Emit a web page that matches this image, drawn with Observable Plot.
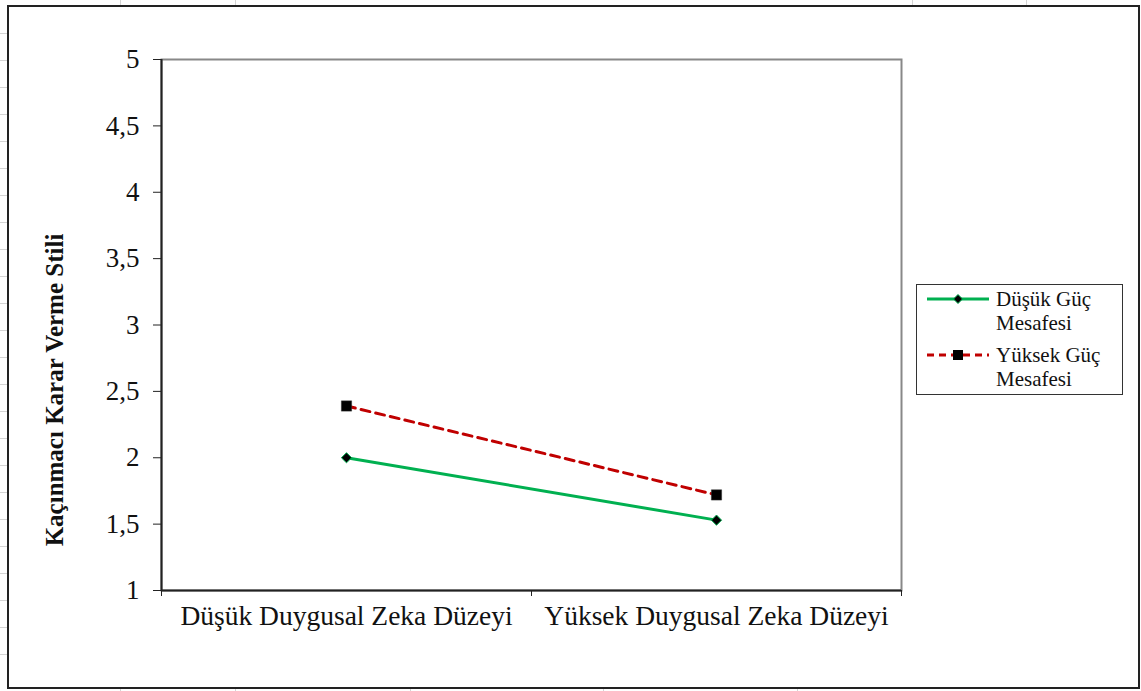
<!DOCTYPE html>
<html>
<head>
<meta charset="utf-8">
<script src="https://cdn.jsdelivr.net/npm/d3@7"></script>
<script src="https://cdn.jsdelivr.net/npm/@observablehq/plot@0.6"></script>
<style>
  body { margin: 0; background: #fff; }
  #wrap { position: relative; width: 1141px; height: 691px; overflow: hidden; font-family: "Liberation Serif", "Times New Roman", serif; }
  #wrap svg.plot { position: absolute; left: 0; top: 0; }
  #border { position: absolute; left: 7px; top: 5px; width: 1133px; height: 684px; border: 2px solid #222; box-sizing: border-box; pointer-events: none; }
  .grid { position: absolute; background: #d4d4d4; }
  #legend { position: absolute; left: 916px; top: 284px; width: 207px; height: 111px; border: 1.5px solid #333; box-sizing: border-box; background: #fff; font-size: 21px; color: #111; line-height: 24px; }
  .item { position: absolute; left: 9px; display: flex; align-items: flex-start; }
  .item svg { margin-top: 4px; margin-right: 6px; }
</style>
</head>
<body>
<div id="wrap">
  <div id="border"></div>
  <div id="legend"></div>
</div>
<script>
const categories = ["Düşük Duygusal Zeka Düzeyi", "Yüksek Duygusal Zeka Düzeyi"];
const seriesNames = ["Düşük Güç Mesafesi", "Yüksek Güç Mesafesi"];
const lowPowerDistance = [2.0, 1.53];
const highPowerDistance = [2.39, 1.72];
const yTicks = [1, 1.5, 2, 2.5, 3, 3.5, 4, 4.5, 5];
const yLabel = "Kaçınmacı Karar Verme Stili";

const green = "#00B050";
const red = "#C00000";

const rows = [];
categories.forEach((c, i) => {
  rows.push({series: seriesNames[0], cat: c, idx: i + 0.5, value: lowPowerDistance[i]});
  rows.push({series: seriesNames[1], cat: c, idx: i + 0.5, value: highPowerDistance[i]});
});
const lowRows = rows.filter(d => d.series === seriesNames[0]);
const highRows = rows.filter(d => d.series === seriesNames[1]);

const fmt = d => String(d).replace(".", ",");

const chart = Plot.plot({
  width: 1141,
  height: 691,
  marginLeft: 161,
  marginRight: 240,
  marginTop: 59,
  marginBottom: 101,
  style: {fontFamily: '"Liberation Serif", "Times New Roman", serif', fontSize: "27px", color: "#111", background: "transparent"},
  x: {type: "linear", domain: [0, categories.length]},
  y: {type: "linear", domain: [1, 5]},
  marks: [
    Plot.frame({stroke: "#888", strokeWidth: 2}),
    Plot.ruleX([0], {stroke: "#222", strokeWidth: 2}),
    Plot.ruleY([1], {stroke: "#222", strokeWidth: 2}),
    Plot.axisY({ticks: yTicks, tickFormat: fmt, tickSize: 8, tickPadding: 14, fontSize: 27, stroke: "#222", label: yLabel, labelAnchor: "center", labelArrow: "none", labelOffset: 116}),
    Plot.axisX({ticks: d3.range(categories.length + 1), tickFormat: () => "", tickSize: 6, stroke: "#222", label: null}),
    Plot.axisX({ticks: categories.map((c, i) => i + 0.5), tickFormat: v => categories[Math.floor(v)], tickSize: 0, tickPadding: 15, fontSize: 27.5, label: null}),
    Plot.line(lowRows, {x: "idx", y: "value", stroke: green, strokeWidth: 3}),
    Plot.line(highRows, {x: "idx", y: "value", stroke: red, strokeWidth: 3, strokeDasharray: "9,6"}),
    Plot.dot(lowRows, {x: "idx", y: "value", symbol: "diamond2", r: 4.6, fill: "#000", stroke: green, strokeWidth: 1}),
    Plot.dot(highRows, {x: "idx", y: "value", symbol: "square", r: 5.8, fill: "#000", stroke: "#333", strokeWidth: 0.5})
  ]
});
chart.classList.add("plot");
const wrap = document.getElementById("wrap");
wrap.insertBefore(chart, wrap.firstChild);
const yTickLabels = chart.querySelector('[aria-label="y-axis tick label"]');
if (yTickLabels) yTickLabels.setAttribute("font-size", "27");
const lab = chart.querySelector('[aria-label="y-axis label"]');
if (lab) {
  lab.setAttribute("font-weight", "bold");
  lab.setAttribute("font-size", "25");
  const t = lab.getAttribute("transform") || "";
  lab.setAttribute("transform", "translate(0,65) " + t);
}

// spreadsheet gridlines outside the chart area
[[120,0,1,5],[235,0,1,5],[912,0,1,5],[1026,0,1,5],[120,688,1,3],[235,688,1,3],[410,688,1,3],[603,688,1,3],[797,688,1,3],
 [0,33,7,1],[0,60,7,1],[0,87,7,1],[0,114,7,1],[0,141,7,1],[0,168,7,1],[0,195,7,1],[0,222,7,1],[0,249,7,1],[0,276,7,1],[0,303,7,1],[0,330,7,1],[0,357,7,1],[0,384,7,1],[0,411,7,1],[0,438,7,1],[0,465,7,1],[0,492,7,1],[0,519,7,1],[0,546,7,1],[0,573,7,1],[0,600,7,1],[0,627,7,1],[0,654,7,1]]
.forEach(([x, y, w, h]) => {
  const g = document.createElement("div");
  g.className = "grid";
  g.style.left = x + "px"; g.style.top = y + "px"; g.style.width = w + "px"; g.style.height = h + "px";
  wrap.insertBefore(g, wrap.firstChild);
});

// legend
const legend = document.getElementById("legend");
const legendSpecs = [
  {name: seriesNames[0], color: green, dash: null, marker: "diamond", top: 2},
  {name: seriesNames[1], color: red, dash: "7,5", marker: "square", top: 58}
];
legendSpecs.forEach(s => {
  const it = document.createElement("div");
  it.className = "item";
  it.style.top = s.top + "px";
  const svg = d3.create("svg").attr("width", 64).attr("height", 16);
  svg.append("line").attr("x1", 1).attr("x2", 63).attr("y1", 8).attr("y2", 8)
    .attr("stroke", s.color).attr("stroke-width", 3).attr("stroke-dasharray", s.dash);
  if (s.marker === "diamond") {
    svg.append("path").attr("d", "M32,3.5L36.5,8L32,12.5L27.5,8Z").attr("fill", "#000").attr("stroke", s.color);
  } else {
    svg.append("rect").attr("x", 27).attr("y", 3).attr("width", 10).attr("height", 10).attr("fill", "#000");
  }
  it.appendChild(svg.node());
  const parts = s.name.split(" ");
  const txt = document.createElement("div");
  txt.innerHTML = parts.slice(0, 2).join(" ") + "<br>" + parts.slice(2).join(" ");
  it.appendChild(txt);
  legend.appendChild(it);
});
</script>
</body>
</html>
